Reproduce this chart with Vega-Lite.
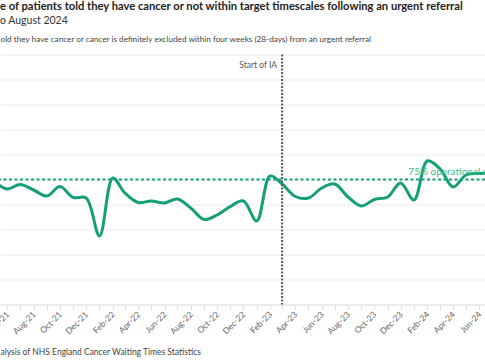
{
  "$schema": "https://vega.github.io/schema/vega-lite/v6.json",
  "width": 485,
  "height": 250,
  "autosize": {"type": "none"},
  "padding": {"left": 0, "right": 0, "top": 54.5, "bottom": 55.5},
  "background": "white",
  "config": {"view": {"stroke": null}, "font": "Lato"},
  "title": {
    "text": "e of patients told they have cancer or not within target timescales following an urgent referral",
    "subtitle": "o August 2024",
    "anchor": "start",
    "frame": "group",
    "font": "Lato",
    "fontSize": 11.2,
    "fontWeight": "bold",
    "color": "#222222",
    "subtitleFont": "Lato",
    "subtitleFontSize": 10.5,
    "subtitleColor": "#333333",
    "subtitlePadding": 3,
    "offset": 8
  },
  "resolve": {"axis": {"x": "independent", "y": "independent"}},
  "layer": [
    {
      "data": {
        "values": [
          {"month": "2021-04-01", "pct": 73.9},
          {"month": "2021-05-01", "pct": 74.3},
          {"month": "2021-06-01", "pct": 73.1},
          {"month": "2021-07-01", "pct": 74.0},
          {"month": "2021-08-01", "pct": 72.9},
          {"month": "2021-09-01", "pct": 71.7},
          {"month": "2021-10-01", "pct": 73.6},
          {"month": "2021-11-01", "pct": 71.4},
          {"month": "2021-12-01", "pct": 71.3},
          {"month": "2022-01-01", "pct": 63.7},
          {"month": "2022-02-01", "pct": 75.3},
          {"month": "2022-03-01", "pct": 72.3},
          {"month": "2022-04-01", "pct": 70.4},
          {"month": "2022-05-01", "pct": 70.7},
          {"month": "2022-06-01", "pct": 70.3},
          {"month": "2022-07-01", "pct": 71.1},
          {"month": "2022-08-01", "pct": 69.3},
          {"month": "2022-09-01", "pct": 67.0},
          {"month": "2022-10-01", "pct": 67.9},
          {"month": "2022-11-01", "pct": 69.6},
          {"month": "2022-12-01", "pct": 70.7},
          {"month": "2023-01-01", "pct": 66.7},
          {"month": "2023-02-01", "pct": 75.7},
          {"month": "2023-03-01", "pct": 74.1},
          {"month": "2023-04-01", "pct": 71.6},
          {"month": "2023-05-01", "pct": 71.3},
          {"month": "2023-06-01", "pct": 73.3},
          {"month": "2023-07-01", "pct": 74.1},
          {"month": "2023-08-01", "pct": 71.5},
          {"month": "2023-09-01", "pct": 69.7},
          {"month": "2023-10-01", "pct": 71.0},
          {"month": "2023-11-01", "pct": 71.5},
          {"month": "2023-12-01", "pct": 74.3},
          {"month": "2024-01-01", "pct": 70.9},
          {"month": "2024-02-01", "pct": 78.7},
          {"month": "2024-03-01", "pct": 77.2},
          {"month": "2024-04-01", "pct": 73.5},
          {"month": "2024-05-01", "pct": 75.9},
          {"month": "2024-06-01", "pct": 76.2},
          {"month": "2024-07-01", "pct": 76.3},
          {"month": "2024-08-01", "pct": 76.5}
        ]
      },
      "mark": {"type": "line", "color": "#14a074", "strokeWidth": 3, "interpolate": "catmull-rom"},
      "encoding": {
        "x": {
          "field": "month",
          "type": "temporal",
          "scale": {
            "type": "utc",
            "domain": [
              {"year": 2021, "month": 5, "date": 15, "utc": true},
              {"year": 2024, "month": 6, "date": 14, "utc": true}
            ]
          },
          "axis": {
            "orient": "bottom",
            "tickCount": {"interval": "month", "step": 1},
            "labelExpr": "utcmonth(datum.value) % 2 == 1 ? utcFormat(datum.value, '%b-%y') : ''",
            "labelAngle": -45,
            "labelAlign": "right",
            "labelBaseline": "middle",
            "labelFont": "Lato",
            "labelFontSize": 8.5,
            "labelColor": "#666666",
            "labelPadding": 3,
            "labelOverlap": false,
            "tickColor": "#e0e0e0",
            "tickSize": 5,
            "domainColor": "#e3e3e3",
            "grid": false,
            "title": "alysis of NHS England Cancer Waiting Times Statistics",
            "titleAnchor": "start",
            "titleAlign": "left",
            "titleBaseline": "alphabetic",
            "titleX": 0,
            "titleY": 50,
            "titleFont": "Lato",
            "titleFontSize": 8.5,
            "titleFontWeight": "normal",
            "titleColor": "#444444"
          }
        },
        "y": {
          "field": "pct",
          "type": "quantitative",
          "scale": {"domain": [50, 100], "nice": false, "zero": false},
          "axis": {
            "values": [50, 55, 60, 65, 70, 75, 80, 85, 90, 95, 100],
            "labels": false,
            "ticks": false,
            "domain": false,
            "title": null,
            "grid": true,
            "gridColor": "#ececec",
            "gridWidth": 1
          }
        }
      }
    },
    {
      "data": {"values": [{}]},
      "mark": {"type": "rule", "color": "#14a074", "strokeWidth": 2, "strokeDash": [3, 2.5]},
      "encoding": {"y": {"datum": 75, "type": "quantitative", "axis": null}}
    },
    {
      "data": {"values": [{}]},
      "mark": {"type": "rule", "color": "#555555", "strokeWidth": 2, "strokeDash": [2, 1.5]},
      "encoding": {"x": {"datum": {"year": 2023, "month": 3, "date": 1, "utc": true}, "type": "temporal", "axis": null}}
    },
    {
      "data": {"values": [{}]},
      "mark": {"type": "text", "text": "Start of IA", "align": "right", "baseline": "middle", "dx": -5, "fontSize": 8.5, "color": "#555555", "font": "Lato"},
      "encoding": {
        "x": {"datum": {"year": 2023, "month": 3, "date": 1, "utc": true}, "type": "temporal", "axis": null},
        "y": {"datum": 98, "type": "quantitative", "axis": null}
      }
    },
    {
      "data": {"values": [{}]},
      "mark": {"type": "text", "text": "75% operational standard", "align": "left", "baseline": "alphabetic", "dy": -4.5, "fontSize": 10, "color": "#3dbb8c", "font": "Lato"},
      "encoding": {
        "x": {
          "datum": {"year": 2023, "month": 12, "date": 19, "utc": true},
          "type": "temporal",
          "axis": {
            "orient": "top",
            "labels": false,
            "ticks": false,
            "domain": false,
            "grid": false,
            "title": "old they have cancer or cancer is definitely excluded within four weeks (28-days) from an urgent referral",
            "titleAnchor": "start",
            "titleAlign": "left",
            "titleBaseline": "alphabetic",
            "titleX": 0,
            "titleY": -13.5,
            "titleFont": "Lato",
            "titleFontSize": 8.2,
            "titleFontWeight": "normal",
            "titleColor": "#444444"
          }
        },
        "y": {"datum": 75, "type": "quantitative", "axis": null}
      }
    }
  ]
}
